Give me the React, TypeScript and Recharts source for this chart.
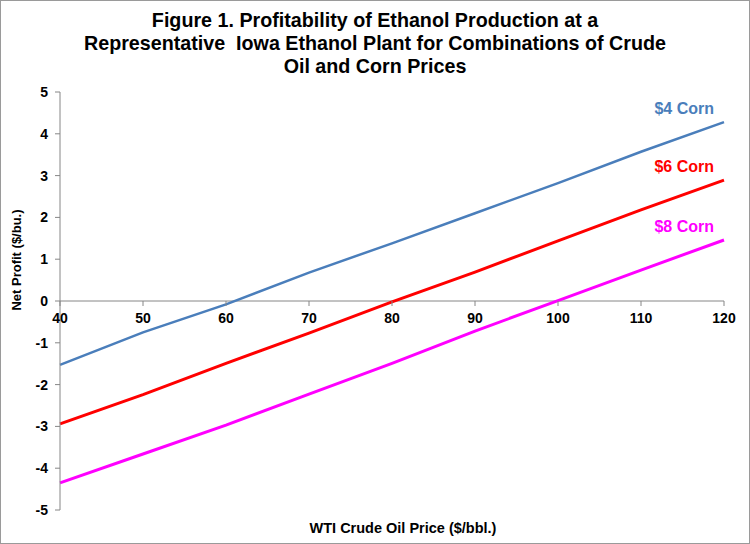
import { CartesianGrid, LabelList, Line, LineChart, ReferenceLine, XAxis, YAxis } from "recharts";

const oilPrices = [40, 50, 60, 70, 80, 90, 100, 110, 120];
const corn4 = [-1.53, -0.75, -0.08, 0.68, 1.38, 2.1, 2.82, 3.57, 4.28];
const corn6 = [-2.94, -2.24, -1.49, -0.77, -0.02, 0.69, 1.44, 2.18, 2.89];
const corn8 = [-4.35, -3.66, -2.97, -2.23, -1.49, -0.72, 0.01, 0.74, 1.46];
const xTicks = [40, 50, 60, 70, 80, 90, 100, 110, 120];
const yTicks = [-5, -4, -3, -2, -1, 0, 1, 2, 3, 4, 5];
const titleLines = [
  "Figure 1. Profitability of Ethanol Production at a",
  "Representative  Iowa Ethanol Plant for Combinations of Crude",
  "Oil and Corn Prices",
];

const data = oilPrices.map((price, i) => ({
  price,
  corn4: corn4[i],
  corn6: corn6[i],
  corn8: corn8[i],
}));

const FONT = '"Liberation Sans", Arial, sans-serif';
const AXIS = "#868686";
const W = 750;
const H = 544;
const MARGIN = { top: 92, right: 26, bottom: 33, left: 20 };
const X_AXIS_H = 1;
// x axis crosses the y axis at 0, which sits in the middle of the [-5, 5] range
const ZERO_SHIFT = (H - MARGIN.top - MARGIN.bottom - X_AXIS_H) / 2;

function renderXTick(props: any) {
  const { x, y, payload } = props;
  const y0 = y - ZERO_SHIFT;
  return (
    <g key={`xt-${payload.value}`}>
      <line x1={x} y1={y0} x2={x} y2={y0 + 5} stroke={AXIS} />
      <text
        x={x}
        y={y0 + 22}
        textAnchor="middle"
        fontFamily={FONT}
        fontWeight="bold"
        fontSize={14}
        fill="#000"
      >
        {payload.value}
      </text>
    </g>
  );
}

function endLabel(text: string, color: string) {
  return (props: any) => {
    const { x, y, index } = props;
    if (index !== oilPrices.length - 1) return null;
    return (
      <text
        x={x - 10}
        y={y - 8}
        textAnchor="end"
        fontFamily={FONT}
        fontWeight="bold"
        fontSize={16}
        fill={color}
      >
        {text}
      </text>
    );
  };
}

export default function App() {
  return (
    <div
      style={{
        position: "absolute",
        left: 0,
        top: 0,
        width: W,
        height: H,
        background: "#fff",
        border: "1px solid #9a9a9a",
        boxSizing: "border-box",
        fontFamily: FONT,
      }}
    >
      <div style={{ position: "absolute", left: -1, top: 8, width: W, textAlign: "center" }}>
        {titleLines.map((t) => (
          <div
            key={t}
            style={{ fontWeight: "bold", fontSize: 19.7, lineHeight: "23px", whiteSpace: "pre" }}
          >
            {t}
          </div>
        ))}
      </div>
      <div style={{ position: "absolute", left: -1, top: -1 }}>
        <LineChart width={W} height={H} data={data} margin={MARGIN}>
          <CartesianGrid stroke="none" />
          <XAxis
            dataKey="price"
            type="number"
            domain={[40, 120]}
            ticks={xTicks}
            height={X_AXIS_H}
            axisLine={false}
            tickLine={false}
            tickSize={0}
            tickMargin={0}
            tick={renderXTick}
            interval={0}
          />
          <YAxis
            type="number"
            domain={[-5, 5]}
            ticks={yTicks}
            width={40}
            interval={0}
            axisLine={{ stroke: AXIS }}
            tickLine={{ stroke: AXIS }}
            tickSize={5}
            tickMargin={7}
            tick={{ fill: "#000", fontSize: 14, fontWeight: "bold", fontFamily: FONT }}
          />
          <ReferenceLine y={0} stroke={AXIS} />
          <Line
            dataKey="corn4"
            stroke="#4A7EBB"
            strokeWidth={2.5}
            dot={false}
            isAnimationActive={false}
          >
            <LabelList dataKey="corn4" content={endLabel("$4 Corn", "#4A7EBB")} />
          </Line>
          <Line
            dataKey="corn6"
            stroke="#FF0000"
            strokeWidth={3}
            dot={false}
            isAnimationActive={false}
          >
            <LabelList dataKey="corn6" content={endLabel("$6 Corn", "#FF0000")} />
          </Line>
          <Line
            dataKey="corn8"
            stroke="#FF00FF"
            strokeWidth={3}
            dot={false}
            isAnimationActive={false}
          >
            <LabelList dataKey="corn8" content={endLabel("$8 Corn", "#FF00FF")} />
          </Line>
        </LineChart>
      </div>
      <div
        style={{
          position: "absolute",
          left: 15,
          top: 259,
          transform: "translate(-50%, -50%) rotate(-90deg)",
          fontWeight: "bold",
          fontSize: 13,
          whiteSpace: "nowrap",
        }}
      >
        Net Profit ($/bu.)
      </div>
      <div
        style={{
          position: "absolute",
          left: 402,
          top: 527,
          transform: "translate(-50%, -50%)",
          fontWeight: "bold",
          fontSize: 14.5,
          whiteSpace: "nowrap",
        }}
      >
        WTI Crude Oil Price ($/bbl.)
      </div>
    </div>
  );
}
